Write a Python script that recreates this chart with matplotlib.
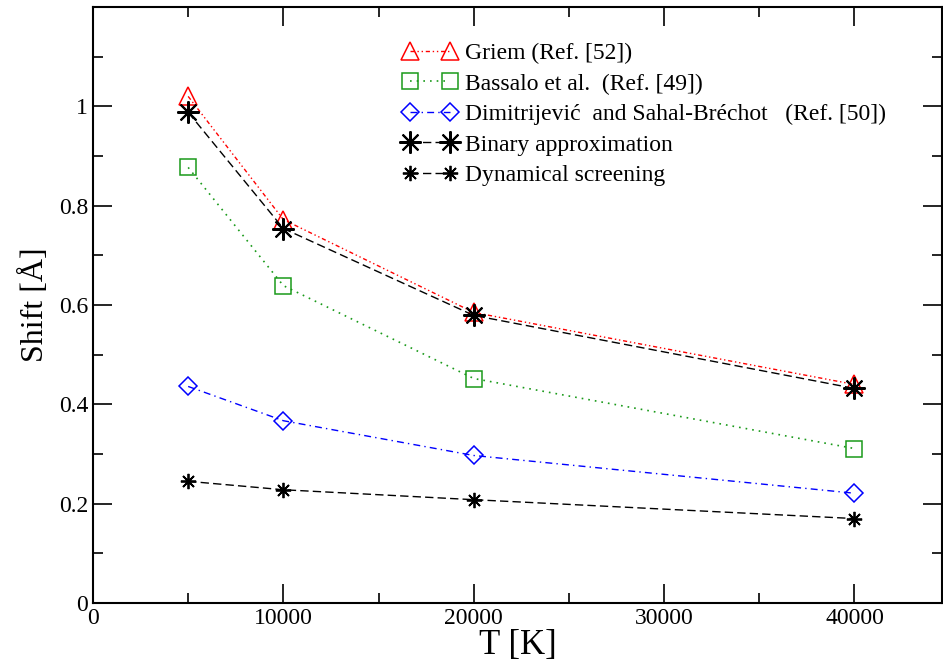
import matplotlib
matplotlib.use("Agg")
import matplotlib.pyplot as plt
from matplotlib.ticker import MultipleLocator, FixedLocator

# temperatures (K) and shifts (Angstrom)
T = [5000, 10000, 20000, 40000]
griem = [1.02, 0.772, 0.585, 0.440]
bassalo = [0.877, 0.639, 0.452, 0.311]
dimitrijevic = [0.436, 0.367, 0.297, 0.221]
binary = [0.988, 0.754, 0.579, 0.432]
dynamical = [0.245, 0.228, 0.208, 0.170]

plt.rcParams["font.family"] = ["Liberation Serif", "DejaVu Serif"]
plt.rcParams["mathtext.fontset"] = "stix"

fig = plt.figure(figsize=(9.43, 6.66), dpi=100)
ax = fig.add_axes([0.0986, 0.0946, 0.9004, 0.8949])

ax.plot(T, griem, color="red", ls=(0, (3, 2, 1, 2, 1, 2)), lw=1.0,
        marker="^", ms=13, mfc="none", mec="red", mew=1.1, label="Griem (Ref. [52])")
ax.plot(T, bassalo, color="#1a9a1a", ls=(0, (1, 3)), lw=1.2,
        marker="s", ms=11, mfc="none", mec="#1a9a1a", mew=1.1, label="Bassalo et al.  (Ref. [49])")
ax.plot(T, dimitrijevic, color="blue", ls=(0, (5, 3, 1, 3)), lw=1.0,
        marker="D", ms=9.5, mfc="none", mec="blue", mew=1.1,
        label="Dimitrijević  and Sahal-Bréchot   (Ref. [50])")
ax.plot(T, binary, color="black", ls=(0, (6, 3)), lw=1.0,
        marker=(8, 2, 0), ms=16, mew=1.5, label="Binary approximation")
ax.plot(T, dynamical, color="black", ls=(0, (6, 3)), lw=1.0,
        marker=(8, 2, 0), ms=11, mew=1.3, label="Dynamical screening")

ax.set_xlim(0, 44600)
ax.set_ylim(0, 1.2)
ax.xaxis.set_major_locator(FixedLocator([0, 10000, 20000, 30000, 40000]))
ax.xaxis.set_minor_locator(MultipleLocator(5000))
ax.yaxis.set_major_locator(FixedLocator([0, 0.2, 0.4, 0.6, 0.8, 1.0]))
ax.yaxis.set_minor_locator(MultipleLocator(0.1))
ax.set_yticklabels(["0", "0.2", "0.4", "0.6", "0.8", "1"])
ax.tick_params(which="both", direction="in", top=True, right=True, labelsize=17, width=1.2)
ax.tick_params(which="major", length=14)
ax.tick_params(which="minor", length=7)
for s in ax.spines.values():
    s.set_linewidth(1.5)

ax.set_xlabel("T [K]", fontsize=25, labelpad=0)
ax.set_ylabel("Shift [Å]", fontsize=23, labelpad=6)

ax.legend(loc="upper left", bbox_to_anchor=(0.359, 0.948), frameon=False, numpoints=2,
          fontsize=17, handlelength=2.3, handletextpad=0.35, labelspacing=0.38,
          borderpad=0.2, borderaxespad=0)

fig.savefig("out.png", dpi=100)
